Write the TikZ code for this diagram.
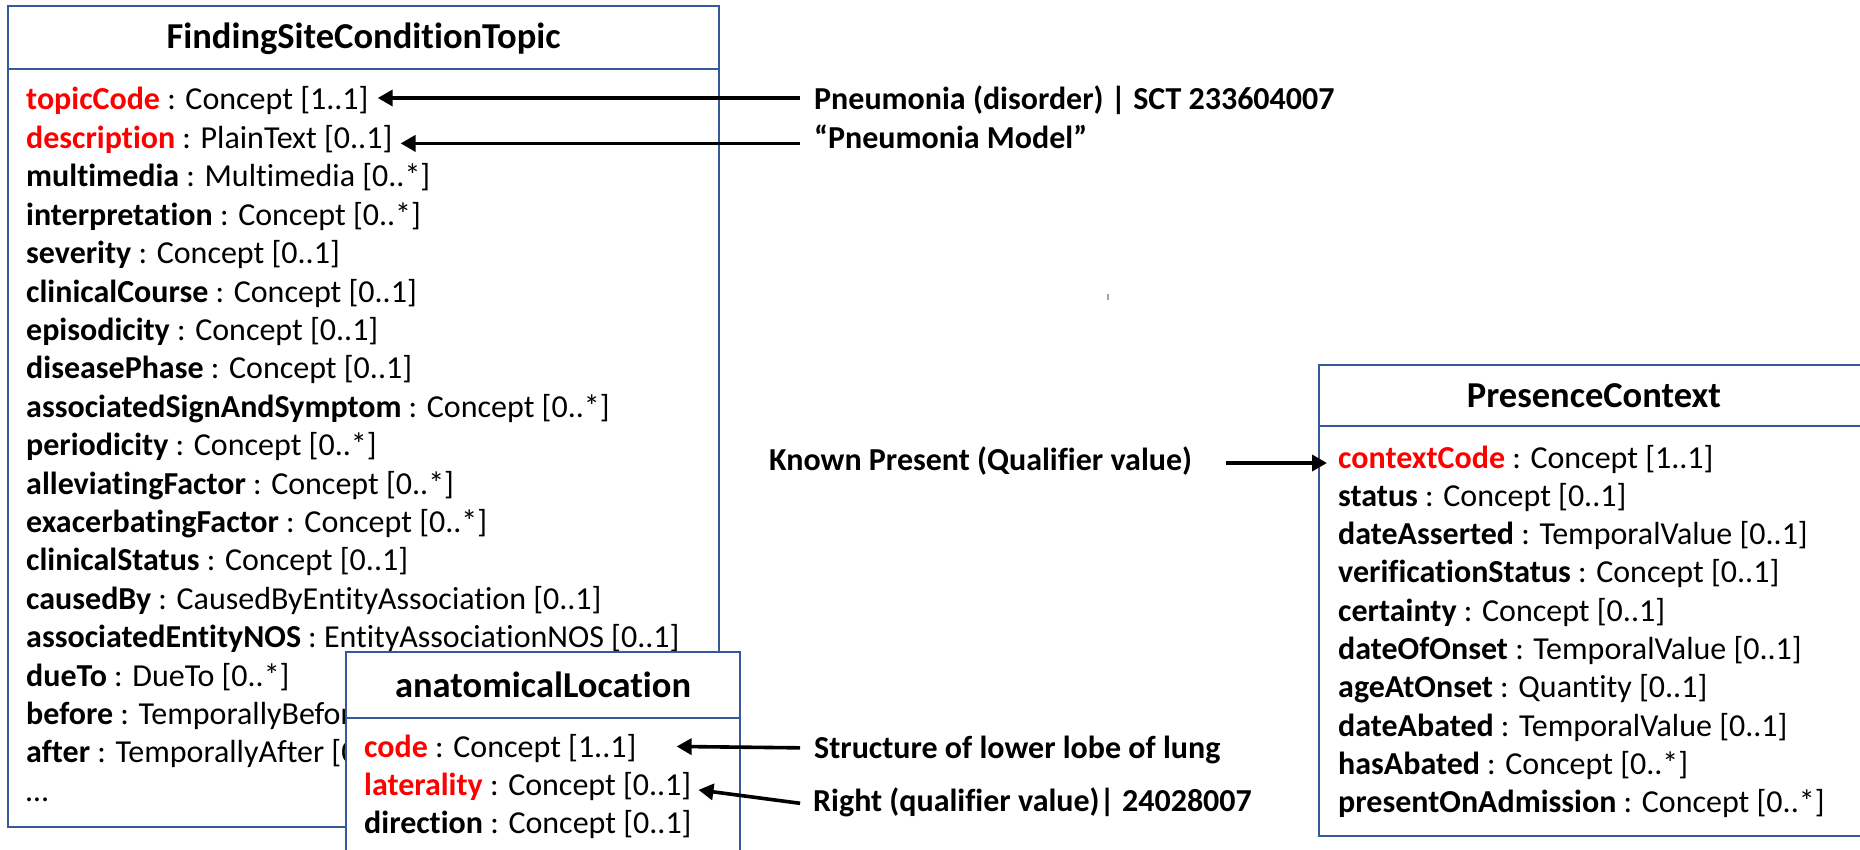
\documentclass[tikz,border=0pt]{standalone}
\usepackage{fontspec}
\setmainfont{Carlito}[Ligatures={NoCommon,NoRare,NoContextual}]
\usetikzlibrary{arrows.meta}
\definecolor{umlblue}{HTML}{35599A}
\definecolor{keyred}{HTML}{FF0000}
\definecolor{speck}{HTML}{9AA3B8}
\begin{document}
\begin{tikzpicture}[x=1pt,y=-1pt,
  box/.style={draw=umlblue,line width=1.8pt,fill=white},
  title/.style={font=\fontsize{36.5}{44}\selectfont\bfseries,anchor=base,inner sep=0pt},
  row/.style={font=\fontsize{32}{38}\selectfont,anchor=base west,inner sep=0pt},
  lbl/.style={font=\fontsize{32}{38}\selectfont\bfseries,anchor=base west,inner sep=0pt},
  arr/.style={line width=3.6pt,-{Triangle[length=15pt,width=16pt]}},
]
\clip (0,0) rectangle (1860,850);
\fill[white] (0,0) rectangle (1860,850);

% ---------- FindingSiteConditionTopic ----------
\draw[box] (8,6) rectangle (719,827);
\draw[umlblue,line width=1.8pt] (8,69) -- (719,69);
\node[title] (fsctTitle) at (363.5,49) {FindingSiteConditionTopic};
\node[row] (topic) at (26,110) {\textbf{\color{keyred}topicCode} : Concept [1..1]};
\node[row] (desc) at (26,148.4) {\textbf{\color{keyred}description} : PlainText [0..1]};
\foreach \i/\k/\t in {
  2/multimedia/Multimedia [0..*],
  3/interpretation/Concept [0..*],
  4/severity/Concept [0..1],
  5/clinicalCourse/Concept [0..1],
  6/episodicity/Concept [0..1],
  7/diseasePhase/Concept [0..1],
  8/associatedSignAndSymptom/Concept [0..*],
  9/periodicity/Concept [0..*],
  10/alleviatingFactor/Concept [0..*],
  11/exacerbatingFactor/Concept [0..*],
  12/clinicalStatus/Concept [0..1],
  13/causedBy/CausedByEntityAssociation [0..1],
  14/associatedEntityNOS/EntityAssociationNOS [0..1],
  15/dueTo/DueTo [0..*],
  16/before/TemporallyBefore [0..*],
  17/after/TemporallyAfter [0..*]}
  \node[row] (m\i) at (26,110+38.4*\i) {\textbf{\k} : \t};
\node[row] (mdots) at (26,110+38.4*18) {…};

% ---------- anatomicalLocation ----------
\draw[box] (346,652) rectangle (740,900);
\draw[umlblue,line width=1.8pt] (346,718) -- (740,718);
\node[title] (anatTitle) at (543,697) {anatomicalLocation};
\node[row] (code) at (364,757) {\textbf{\color{keyred}code} : Concept [1..1]};
\node[row] (lat) at (364,795) {\textbf{\color{keyred}laterality} : Concept [0..1]};
\node[row] (dir) at (364,833) {\textbf{direction} : Concept [0..1]};

% ---------- PresenceContext ----------
\draw[box] (1319,365) rectangle (1880,836);
\draw[umlblue,line width=1.8pt] (1319,426) -- (1880,426);
\node[title] (pcTitle) at (1594,407) {PresenceContext};
\node[row] (ctx) at (1338,468) {\textbf{\color{keyred}contextCode} : Concept [1..1]};
\foreach \i/\k/\t in {
  1/status/Concept [0..1],
  2/dateAsserted/TemporalValue [0..1],
  3/verificationStatus/Concept [0..1],
  4/certainty/Concept [0..1],
  5/dateOfOnset/TemporalValue [0..1],
  6/ageAtOnset/Quantity [0..1],
  7/dateAbated/TemporalValue [0..1],
  8/hasAbated/Concept [0..*],
  9/presentOnAdmission/Concept [0..*]}
  \node[row] (p\i) at (1338,468+38.3*\i) {\textbf{\k} : \t};

% ---------- value annotations ----------
\node[lbl] (pn) at (814,110) {Pneumonia (disorder) | SCT 233604007};
\node[lbl] (pm) at (814,148.4) {“Pneumonia Model”};
\node[lbl] (kp) at (769,470) {Known Present (Qualifier value)};
\node[lbl] (slung) at (814,758) {Structure of lower lobe of lung};
\node[lbl] (right) at (813,811) {Right (qualifier value)| 24028007};

\draw[arr,shorten <=14pt,shorten >=9pt] ([yshift=12pt]pn.base west) -- ([yshift=12pt]topic.base east);
\draw[arr,shorten <=14pt,shorten >=8pt] ([yshift=5pt]pm.base west) -- ([yshift=5pt]desc.base east);
\draw[arr,shorten <=34pt,shorten >=11pt] ([yshift=7pt]kp.base east) -- ([yshift=5pt]ctx.base west);
\draw[arr,shorten <=14pt,shorten >=40pt] ([yshift=10pt]slung.base west) -- ([yshift=11pt]code.base east);
\draw[arr,shorten <=13pt,shorten >=7pt] ([yshift=6pt]right.base west) -- ([yshift=6pt]lat.base east);

% small speck above the annotations
\fill[speck] (1107,294) rectangle (1109,300);
\end{tikzpicture}
\end{document}
